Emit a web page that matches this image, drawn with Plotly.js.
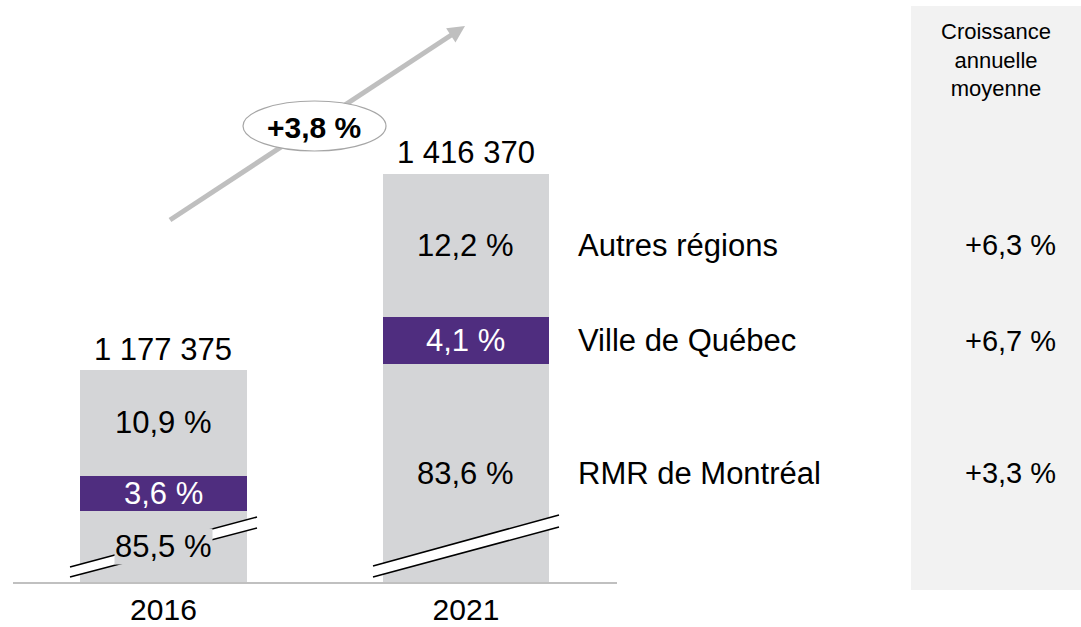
<!DOCTYPE html>
<html>
<head>
<meta charset="utf-8">
<script src="https://cdn.plot.ly/plotly-3.0.1.min.js"></script>
<style>html,body{margin:0;padding:0;background:#fff;}#chart{width:1081px;height:627px;}</style>
</head>
<body>
<div id="chart"></div>
<script>
// ---- Data ----
const years = ['2016', '2021'];
const totals = [1177375, 1416370];
const regions = ['RMR de Montréal', 'Ville de Québec', 'Autres régions'];
const shares2016 = [85.5, 3.6, 10.9];
const shares2021 = [83.6, 4.1, 12.2];
const growth = [3.3, 6.7, 6.3];
const overallGrowth = 3.8;
const growthHeader = ['Croissance', 'annuelle', 'moyenne'];

// ---- Helpers ----
const FONT = 'Liberation Sans, Arial, sans-serif';
const GREY = '#d4d5d7';
const PURPLE = '#4f2d7f';
const segColors = [GREY, PURPLE, GREY];
const segTextColors = ['#000', '#fff', '#000'];
const fmtInt = n => String(Math.round(n)).replace(/\B(?=(\d{3})+(?!\d))/g, '\u00a0');
const fmtPct = v => v.toFixed(1).replace('.', ',') + '\u00a0%';
const fmtGrowth = v => '+' + fmtPct(v);

// plot geometry (pixels) for the broken axis and decorations
const L = 13, R = 617, T = 20, B = 582;
const px = x => (x - L) / (R - L);
const py = y => (B - y) / (B - T);
const yMin = 920219, yMax = 1601925; // broken axis: bottom of visible range

const shares = [shares2016, shares2021];
const values = shares.map((s, i) => s.map(v => totals[i] * v / 100));
const xPos = [0, 1];

const traces = regions.map((r, j) => ({
  type: 'bar',
  name: r,
  x: xPos,
  y: values.map(v => v[j]),
  width: 0.552,
  marker: {color: segColors[j], line: {width: 0}},
  hoverinfo: 'skip'
}));

const LBL = 31;
const annotations = [];
// segment labels
values.forEach((vals, i) => {
  let base = 0;
  vals.forEach((v, j) => {
    const yc = j === 0 ? (yMin + v) / 2 : base + v / 2;
    annotations.push({
      x: xPos[i], y: yc, xref: 'x', yref: 'y', showarrow: false,
      xanchor: 'center', yanchor: 'middle',
      text: fmtPct(shares[i][j]),
      font: {family: FONT, size: LBL, color: segTextColors[j]},
      bgcolor: j === 0 ? GREY : 'rgba(0,0,0,0)', borderpad: 0
    });
    base += v;
  });
  // totals
  annotations.push({
    x: xPos[i], y: totals[i], xref: 'x', yref: 'y', showarrow: false,
    xanchor: 'center', yanchor: 'bottom', yshift: 1,
    text: fmtInt(totals[i]),
    font: {family: FONT, size: LBL, color: '#000'}
  });
});
// right-side region labels & growth (aligned to 2021 segments)
{
  let base = 0;
  values[1].forEach((v, j) => {
    const yc = j === 0 ? (yMin + v) / 2 : base + v / 2;
    annotations.push({
      x: px(576), y: yc, xref: 'paper', yref: 'y', showarrow: false,
      xanchor: 'left', yanchor: 'middle',
      text: regions[j], font: {family: FONT, size: LBL, color: '#000'}
    });
    annotations.push({
      x: px(1058), y: yc, xref: 'paper', yref: 'y', showarrow: false,
      xanchor: 'right', yanchor: 'middle',
      text: fmtGrowth(growth[j]), font: {family: FONT, size: 29, color: '#000'}
    });
    base += v;
  });
}
// header (single multi-line text)
annotations.push({
  x: px(996), y: py(60), xref: 'paper', yref: 'paper', showarrow: false,
  xanchor: 'center', yanchor: 'middle', align: 'center',
  text: growthHeader.join('<br>'), font: {family: FONT, size: 22, color: '#000'}
});
// overall growth label
annotations.push({
  x: px(314), y: py(127), xref: 'paper', yref: 'paper', showarrow: false,
  xanchor: 'center', yanchor: 'middle',
  text: '<b>' + fmtGrowth(overallGrowth) + '</b>',
  font: {family: FONT, size: 30, color: '#000'}
});

// ---- Decorations (shapes) ----
const P = (x, y) => px(x) + ',' + py(y);
const shapes = [];
// right grey panel
shapes.push({type: 'rect', xref: 'paper', yref: 'paper', x0: px(911), x1: px(1081), y0: py(590), y1: py(6),
  fillcolor: '#f2f2f2', line: {width: 0}, layer: 'below'});
// arrow
const tail = [170, 220], tip = [465, 26];
const dx = tip[0] - tail[0], dy = tip[1] - tail[1];
const len = Math.hypot(dx, dy);
const ux = dx / len, uy = dy / len, nx = -uy, ny = ux;
const hl = 17, hw = 8.5;
const bc = [tip[0] - hl * ux, tip[1] - hl * uy];
shapes.push({type: 'line', xref: 'paper', yref: 'paper', x0: px(tail[0]), y0: py(tail[1]),
  x1: px(bc[0] + 2 * ux), y1: py(bc[1] + 2 * uy), line: {color: '#bfbfbf', width: 5}});
shapes.push({type: 'path', xref: 'paper', yref: 'paper',
  path: 'M' + P(tip[0], tip[1]) + 'L' + P(bc[0] + hw * nx, bc[1] + hw * ny) + 'L' + P(bc[0] - hw * nx, bc[1] - hw * ny) + 'Z',
  fillcolor: '#bfbfbf', line: {width: 0}});
// ellipse
shapes.push({type: 'circle', xref: 'paper', yref: 'paper', x0: px(243), x1: px(386), y0: py(151), y1: py(101),
  fillcolor: '#ffffff', line: {color: '#a6a6a6', width: 1.2}});
// axis-break marks
const breaks = [
  {a: [70, 567], b: [257, 517], c: [257, 528], d: [70, 577]},
  {a: [373, 566], b: [559, 515], c: [559, 527], d: [373, 577]}
];
breaks.forEach(k => {
  shapes.push({type: 'path', xref: 'paper', yref: 'paper',
    path: 'M' + P(...k.a) + 'L' + P(...k.b) + 'L' + P(...k.c) + 'L' + P(...k.d) + 'Z',
    fillcolor: '#ffffff', line: {width: 0}});
  shapes.push({type: 'line', xref: 'paper', yref: 'paper', x0: px(k.a[0]), y0: py(k.a[1]), x1: px(k.b[0]), y1: py(k.b[1]),
    line: {color: '#000', width: 1.6}});
  shapes.push({type: 'line', xref: 'paper', yref: 'paper', x0: px(k.d[0]), y0: py(k.d[1]), x1: px(k.c[0]), y1: py(k.c[1]),
    line: {color: '#000', width: 1.6}});
});

const layout = {
  width: 1081, height: 627,
  margin: {l: L, r: 1081 - R, t: T, b: 627 - B},
  paper_bgcolor: '#ffffff', plot_bgcolor: 'rgba(0,0,0,0)',
  barmode: 'stack', bargap: 0, showlegend: false,
  font: {family: FONT, color: '#000'},
  xaxis: {
    range: [-0.4975, 1.4992], tickvals: xPos, ticktext: years,
    showgrid: false, zeroline: false, showline: true, linecolor: '#c0c0c0', linewidth: 2,
    ticks: '', ticklabelstandoff: 0, tickfont: {family: FONT, size: 30, color: '#000'},
    fixedrange: true
  },
  yaxis: {range: [yMin, yMax], visible: false, showgrid: false, zeroline: false, fixedrange: true},
  annotations: annotations,
  shapes: shapes
};

Plotly.newPlot('chart', traces, layout, {displayModeBar: false, staticPlot: true});
</script>
</body>
</html>
